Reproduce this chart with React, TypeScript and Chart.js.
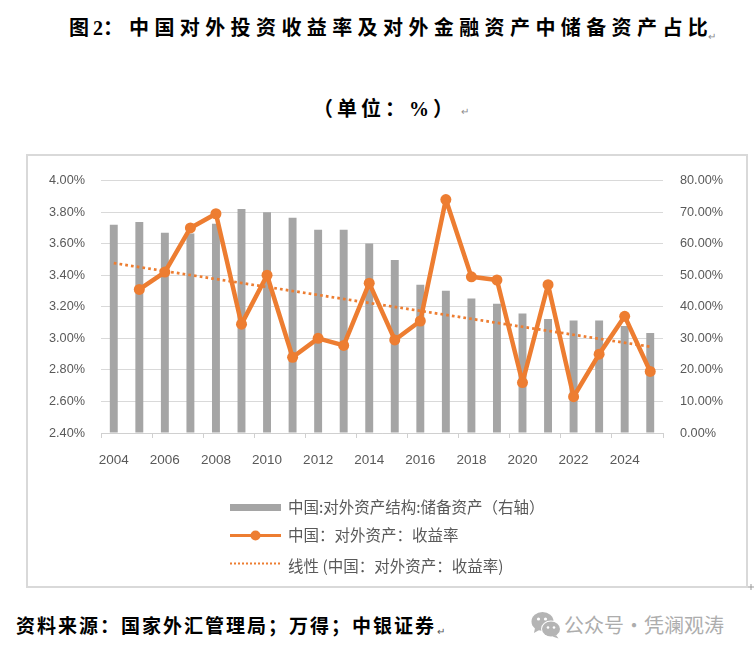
import React, { useEffect, useRef } from "react";
import { Chart, registerables } from "chart.js";

Chart.register(...registerables);

// ---- data ----
const years = [
  "2004", "2005", "2006", "2007", "2008", "2009", "2010", "2011", "2012", "2013", "2014",
  "2015", "2016", "2017", "2018", "2019", "2020", "2021", "2022", "2023", "2024", "2025",
];
// 中国:对外资产结构:储备资产 (右轴, %)
const reserveShare = [
  66.0, 66.9, 63.5, 63.2, 66.3, 71.0, 70.0, 68.2, 64.4, 64.4, 60.1,
  54.8, 47.0, 45.1, 42.6, 41.0, 37.9, 36.1, 35.7, 35.7, 33.9, 31.7,
];
// 中国：对外资产：收益率 (左轴, %)
const returnRate = [
  null, 3.31, 3.42, 3.70, 3.79, 3.09, 3.40, 2.88, 3.00, 2.955, 3.35,
  2.99, 3.11, 3.88, 3.39, 3.37, 2.72, 3.34, 2.63, 2.90, 3.14, 2.79,
];
// 线性趋势线：起点与终点
const trendLine = [
  3.477, null, null, null, null, null, null, null, null, null, null,
  null, null, null, null, null, null, null, null, null, null, 2.947,
];
const leftTicks = { min: 2.4, max: 4.0, step: 0.2 };
const rightTicks = { min: 0, max: 80, step: 10 };

const labelBar = "中国:对外资产结构:储备资产（右轴）";
const labelLine = "中国：对外资产：收益率";
const labelTrend = "线性 (中国：对外资产：收益率)";

const ORANGE = "#ED7D31";
const GRAY = "#A5A5A5";
const TEXT = "#595959";
const CJK = "'Noto Sans CJK SC', 'Noto Sans', sans-serif";
const LATIN = "'Liberation Sans', 'Noto Sans CJK SC', sans-serif";

const stackedLegend = {
  id: "stackedLegend",
  afterDraw(chart: any) {
    const ctx = chart.ctx as CanvasRenderingContext2D;
    const ds = chart.data.datasets;
    const x0 = 202;
    const x1 = 253;
    const tx = 260;
    const rows = [
      { ds: ds[2], kind: "bar", my: 351.5, ty: 351.5 },
      { ds: ds[0], kind: "line", my: 379.5, ty: 379.5 },
      { ds: ds[1], kind: "dot", my: 407.5, ty: 410.5 },
    ];
    ctx.save();
    for (const r of rows) {
      if (r.kind === "bar") {
        ctx.fillStyle = r.ds.backgroundColor;
        ctx.fillRect(x0, r.my - 3.5, x1 - x0, 7);
      } else if (r.kind === "line") {
        ctx.strokeStyle = r.ds.borderColor;
        ctx.lineWidth = 3;
        ctx.setLineDash([]);
        ctx.beginPath();
        ctx.moveTo(x0, r.my);
        ctx.lineTo(x1, r.my);
        ctx.stroke();
        ctx.fillStyle = r.ds.borderColor;
        ctx.beginPath();
        ctx.arc((x0 + x1) / 2, r.my, 5, 0, Math.PI * 2);
        ctx.fill();
      } else {
        ctx.strokeStyle = r.ds.borderColor;
        ctx.lineWidth = 2;
        ctx.setLineDash([2, 2]);
        ctx.beginPath();
        ctx.moveTo(x0, r.my);
        ctx.lineTo(x1, r.my);
        ctx.stroke();
        ctx.setLineDash([]);
      }
      ctx.fillStyle = TEXT;
      ctx.font = `15.5px ${CJK}`;
      ctx.textBaseline = "middle";
      ctx.textAlign = "left";
      ctx.fillText(r.ds.label, tx, r.ty);
    }
    ctx.restore();
  },
};

function ChartBox() {
  const ref = useRef<HTMLCanvasElement | null>(null);
  useEffect(() => {
    if (!ref.current) return;
    const chart = new Chart(ref.current, {
      type: "bar",
      data: {
        labels: years,
        datasets: [
          {
            type: "line",
            label: labelLine,
            data: returnRate,
            yAxisID: "y",
            borderColor: ORANGE,
            backgroundColor: ORANGE,
            borderWidth: 4.5,
            borderJoinStyle: "round",
            borderCapStyle: "round",
            pointRadius: 5.5,
            pointBackgroundColor: ORANGE,
            pointBorderWidth: 0,
            tension: 0,
            spanGaps: false,
            order: 0,
          } as any,
          {
            type: "line",
            label: labelTrend,
            data: trendLine,
            yAxisID: "y",
            borderColor: ORANGE,
            backgroundColor: ORANGE,
            borderWidth: 2.7,
            borderDash: [2.7, 3.1],
            pointRadius: 0,
            spanGaps: true,
            order: 1,
          } as any,
          {
            type: "bar",
            label: labelBar,
            data: reserveShare,
            yAxisID: "y1",
            backgroundColor: GRAY,
            barPercentage: 0.31,
            categoryPercentage: 1,
            order: 2,
          } as any,
        ],
      },
      options: {
        animation: false,
        responsive: true,
        maintainAspectRatio: false,
        layout: { padding: { top: 20, bottom: 113, left: 0, right: 0 } },
        plugins: {
          legend: { display: false },
          tooltip: { enabled: false },
          title: { display: false },
        },
        scales: {
          x: {
            type: "category",
            offset: true,
            afterFit: (s: any) => {
              s.height = 40;
            },
            grid: {
              display: true,
              drawOnChartArea: false,
              drawTicks: true,
              tickLength: 5,
              offset: true,
              color: (c: any) =>
                c.index === undefined || c.index % 2 === 0 ? "#D0D0D0" : "rgba(0,0,0,0)",
            },
            border: { display: true, color: "#D0D0D0", width: 1 },
            ticks: {
              autoSkip: false,
              maxRotation: 0,
              minRotation: 0,
              padding: 14,
              color: TEXT,
              font: { family: LATIN, size: 13.5 },
              callback: (_v: any, i: number) => (i % 2 === 0 ? years[i] : ""),
            },
          },
          y: {
            type: "linear",
            position: "left",
            min: leftTicks.min,
            max: leftTicks.max,
            afterFit: (s: any) => {
              s.width = 73;
            },
            grid: { color: "#D9D9D9", lineWidth: 1, drawTicks: false },
            border: { display: false },
            ticks: {
              stepSize: leftTicks.step,
              padding: 16,
              color: TEXT,
              font: { family: LATIN, size: 12.7 },
              callback: (v: any) => Number(v).toFixed(2) + "%",
            },
          },
          y1: {
            type: "linear",
            position: "right",
            min: rightTicks.min,
            max: rightTicks.max,
            afterFit: (s: any) => {
              s.width = 83;
            },
            grid: { drawOnChartArea: false, drawTicks: false },
            border: { display: false },
            ticks: {
              stepSize: rightTicks.step,
              padding: 17,
              color: TEXT,
              font: { family: LATIN, size: 12.7 },
              callback: (v: any) => Number(v).toFixed(2) + "%",
            },
          },
        },
      },
      plugins: [stackedLegend],
    });
    return () => chart.destroy();
  }, []);
  return (
    <div style={{ position: "relative", width: 718, height: 430 }}>
      <canvas ref={ref} />
    </div>
  );
}

export default function App() {
  const serifBold = "'Liberation Serif', 'Noto Sans CJK SC', serif";
  const abs: React.CSSProperties = { position: "absolute", whiteSpace: "nowrap" };
  const mark: React.CSSProperties = {
    ...abs,
    fontFamily: CJK,
    fontSize: 10,
    color: "#8c8c8c",
    fontWeight: 400,
  };
  return (
    <div
      style={{
        position: "absolute",
        left: 0,
        top: 0,
        width: 754,
        height: 655,
        background: "#ffffff",
        overflow: "hidden",
        color: "#000",
      }}
    >
      {/* title */}
      <div style={{ ...abs, left: 0, top: 18, height: 22, fontFamily: serifBold, fontWeight: 700, fontSize: 20, lineHeight: "20px" }}>
        <span style={{ ...abs, left: 69 }}>图</span>
        <span style={{ ...abs, left: 93 }}>2：</span>
        <span style={{ ...abs, left: 129, letterSpacing: "5.4px" }}>
          中国对外投资收益率及对外金融资产中储备资产占比
        </span>
      </div>
      <span style={{ ...mark, left: 708, top: 28 }}>↵</span>

      {/* subtitle */}
      <div
        style={{
          ...abs,
          left: 313,
          top: 99,
          fontFamily: serifBold,
          fontWeight: 700,
          fontSize: 20,
          lineHeight: "20px",
          letterSpacing: "4px",
        }}
      >
        （单位：%）
      </div>
      <span style={{ ...mark, left: 461, top: 103 }}>↵</span>

      {/* chart frame */}
      <div
        style={{
          position: "absolute",
          left: 26,
          top: 154,
          width: 718,
          height: 430,
          border: "2px solid #D9D9D9",
        }}
      >
        <ChartBox />
      </div>
      <svg style={{ position: "absolute", left: 748, top: 584 }} width="6" height="6">
        <line x1="0" y1="3" x2="6" y2="3" stroke="#999" strokeWidth="1" />
        <line x1="3" y1="0" x2="3" y2="6" stroke="#999" strokeWidth="1" />
      </svg>

      {/* source */}
      <div
        style={{
          ...abs,
          left: 16,
          top: 617,
          fontFamily: serifBold,
          fontWeight: 700,
          fontSize: 19,
          lineHeight: "19px",
          letterSpacing: "2px",
        }}
      >
        资料来源：国家外汇管理局；万得；中银证券
      </div>
      <span style={{ ...mark, left: 437, top: 623, color: "#555" }}>↵</span>

      {/* watermark */}
      <svg style={{ position: "absolute", left: 531, top: 611 }} width="31" height="28" viewBox="0 0 31 28">
        <ellipse cx="11.5" cy="10.5" rx="11" ry="9.5" fill="#b4b4b4" />
        <path d="M4 17 L3 22 L9 18.5 Z" fill="#b4b4b4" />
        <ellipse cx="20" cy="18" rx="10" ry="8.5" fill="#ffffff" />
        <ellipse cx="20" cy="18" rx="9" ry="7.6" fill="#b4b4b4" />
        <path d="M25 24 L27.5 27.5 L21.5 25.5 Z" fill="#b4b4b4" />
        <circle cx="7.5" cy="8" r="1.6" fill="#fff" />
        <circle cx="14.5" cy="8" r="1.6" fill="#fff" />
        <circle cx="17" cy="16.5" r="1.3" fill="#fff" />
        <circle cx="23" cy="16.5" r="1.3" fill="#fff" />
      </svg>
      <div
        style={{
          ...abs,
          left: 564,
          top: 614,
          fontFamily: CJK,
          fontSize: 20,
          lineHeight: "22px",
          color: "#adadad",
          wordSpacing: "-4.5px",
        }}
      >
        公众号 · 凭澜观涛
      </div>
    </div>
  );
}
